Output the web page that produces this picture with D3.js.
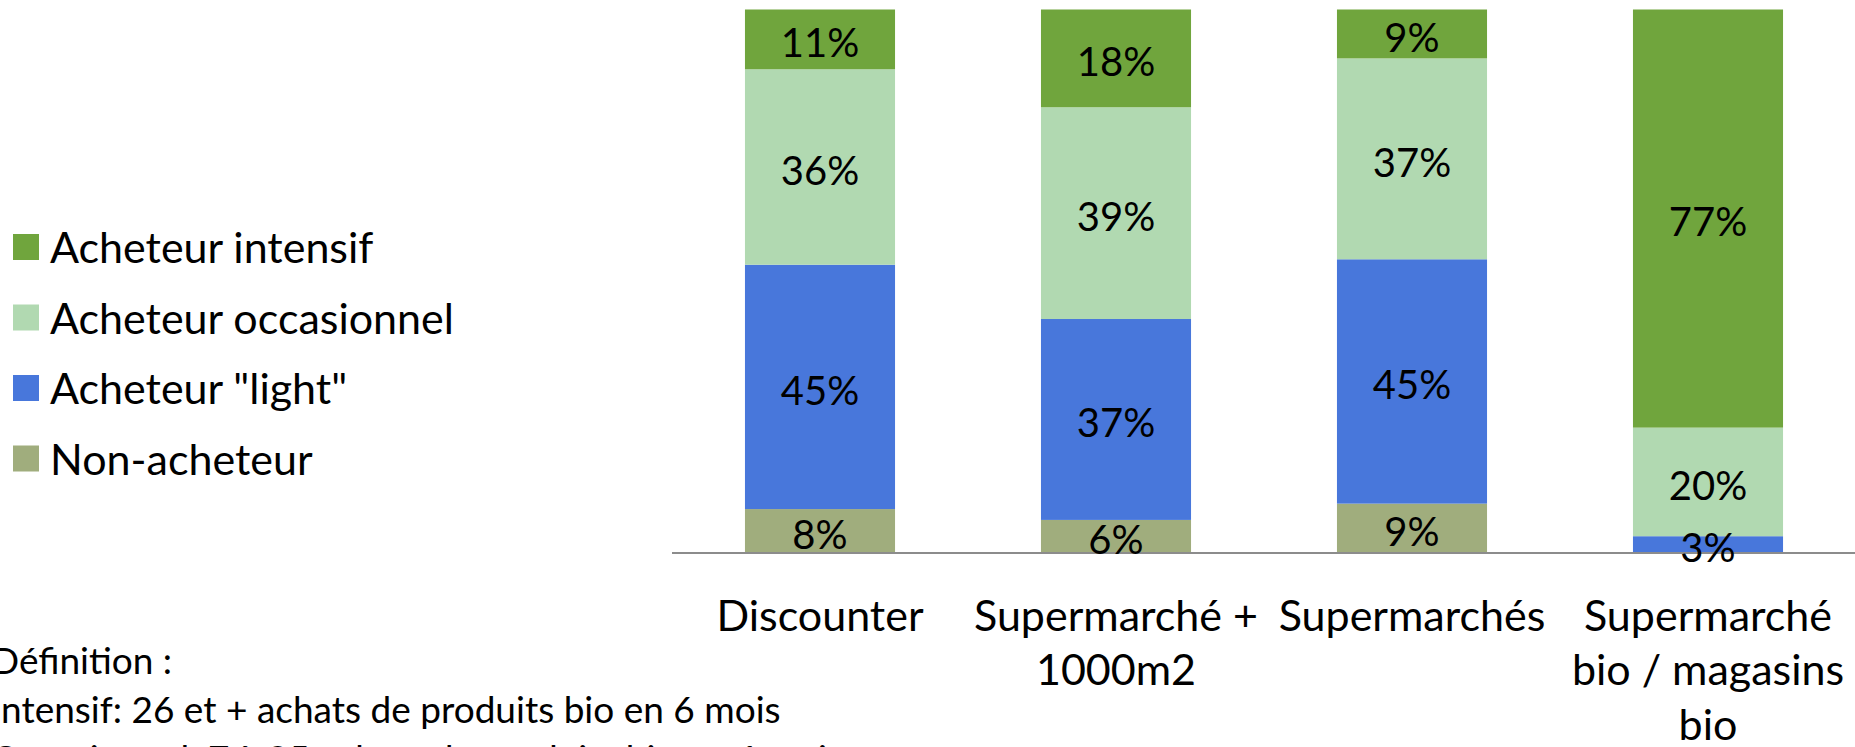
<!DOCTYPE html>
<html>
<head>
<meta charset="utf-8">
<script src="https://cdn.jsdelivr.net/npm/d3@7"></script>
<style>
  html, body { margin: 0; padding: 0; background: #ffffff; overflow: hidden; }
  svg { display: block; font-family: Lato, "Open Sans", sans-serif; }
</style>
</head>
<body>
<svg id="chart" width="1855" height="747"></svg>
<script>
// Store formats (x categories), drawn as wrapped tick labels
const categories = ["Discounter", "Supermarché + 1000m2", "Supermarchés", "Supermarché bio / magasins bio"];
const categoryLines = [
  ["Discounter"],
  ["Supermarché +", "1000m2"],
  ["Supermarchés"],
  ["Supermarché", "bio / magasins", "bio"]
];

// Buyer segments, stacked bottom to top
const seriesNames = ["Non-acheteur", "Acheteur \"light\"", "Acheteur occasionnel", "Acheteur intensif"];
const nonAcheteur = [8, 6, 9, 0];
const acheteurLight = [45, 37, 45, 3];
const acheteurOccasionnel = [36, 39, 37, 20];
const acheteurIntensif = [11, 18, 9, 77];
const seriesColors = ["#a0ad7d", "#4877db", "#b1d9b1", "#70a53d"];

// Legend order (top to bottom)
const legendOrder = ["Acheteur intensif", "Acheteur occasionnel", "Acheteur \"light\"", "Non-acheteur"];

const definitionLines = [
  "Définition :",
  "Intensif: 26 et + achats de produits bio en 6 mois",
  "Occasionnel: 7 à 25 achats de produits bio en 6 mois"
];

const seriesValues = [nonAcheteur, acheteurLight, acheteurOccasionnel, acheteurIntensif];
const rows = categories.map((c, i) => {
  const r = { category: c };
  seriesNames.forEach((s, k) => { r[s] = seriesValues[k][i]; });
  return r;
});

const svg = d3.select("#chart");
const plot = { left: 672, right: 1856, top: 9.5, bottom: 552.5 };

const x = d3.scaleBand()
  .domain(categories)
  .range([plot.left, plot.right])
  .paddingInner(0.493)
  .paddingOuter(0.2465);

const y = d3.scaleLinear()
  .domain([0, 100])
  .range([plot.bottom, plot.top]);

const color = d3.scaleOrdinal().domain(seriesNames).range(seriesColors);

const stacked = d3.stack().keys(seriesNames)(rows);

// Bars
const layers = svg.append("g").attr("class", "bars")
  .selectAll("g")
  .data(stacked)
  .join("g")
  .attr("fill", d => color(d.key));

layers.selectAll("rect")
  .data(d => d.map(p => ({ key: d.key, p })))
  .join("rect")
  .attr("x", d => x(d.p.data.category))
  .attr("width", x.bandwidth())
  .attr("y", d => y(d.p[1]))
  .attr("height", d => Math.max(0, y(d.p[0]) - y(d.p[1])));

// Category axis
const axis = svg.append("g")
  .attr("transform", `translate(0,${plot.bottom})`)
  .call(d3.axisBottom(x).tickSize(0).tickFormat(""));
axis.select(".domain")
  .attr("d", `M${plot.left},0.5H${plot.right}`)
  .attr("stroke", "#8c8c8c")
  .attr("stroke-width", 2);

axis.selectAll(".tick").each(function (d, i) {
  const t = d3.select(this).select("text")
    .attr("y", 0)
    .attr("dy", null)
    .attr("fill", "#000")
    .attr("font-size", 43)
    .attr("font-family", "Lato, sans-serif")
    .text(null);
  categoryLines[i].forEach((line, j) => {
    t.append("tspan")
      .attr("x", 0)
      .attr("y", 78 + j * 54.5)
      .text(line);
  });
});

// Value labels centred in each segment
svg.append("g").attr("class", "labels")
  .selectAll("g")
  .data(stacked)
  .join("g")
  .selectAll("text")
  .data(d => d.filter(p => p[1] - p[0] > 0))
  .join("text")
  .attr("x", p => x(p.data.category) + x.bandwidth() / 2)
  .attr("y", p => (y(p[0]) + y(p[1])) / 2 + 3.5)
  .attr("dy", "0.36em")
  .attr("text-anchor", "middle")
  .attr("font-size", 40)
  .attr("fill", "#000")
  .text(p => `${p[1] - p[0]}%`);

// Legend
const legend = svg.append("g").attr("class", "legend")
  .selectAll("g")
  .data(legendOrder)
  .join("g")
  .attr("transform", (d, i) => `translate(13,${247 + i * 70.5})`);

legend.append("rect")
  .attr("x", 0)
  .attr("y", -13)
  .attr("width", 26)
  .attr("height", 26)
  .attr("fill", d => color(d));

legend.append("text")
  .attr("x", 37)
  .attr("y", 1)
  .attr("dy", "0.36em")
  .attr("font-size", 43)
  .attr("fill", "#000")
  .text(d => d);

// Definitions block
svg.append("g").attr("class", "definitions")
  .selectAll("text")
  .data(definitionLines)
  .join("text")
  .attr("x", -9)
  .attr("y", (d, i) => 674 + i * 49)
  .attr("font-size", 37)
  .attr("fill", "#000")
  .text(d => d);
</script>
</body>
</html>
